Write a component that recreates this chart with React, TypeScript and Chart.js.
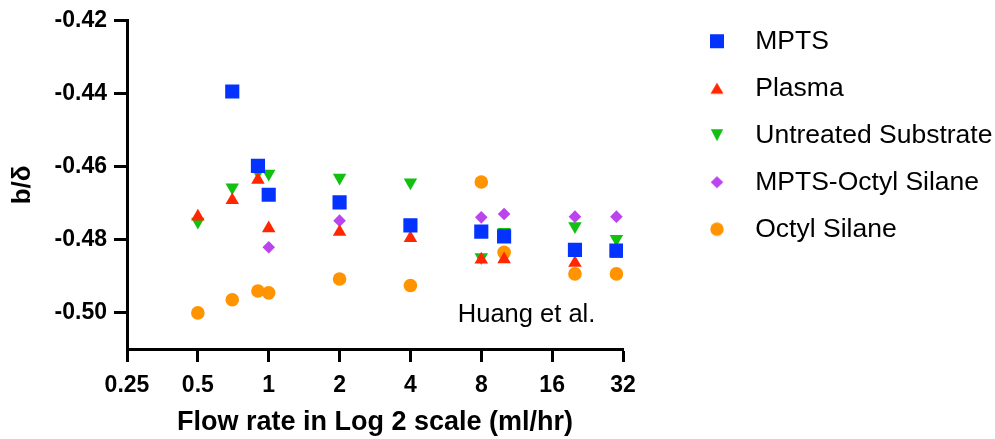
import React, { useEffect, useRef } from 'react';
import { Chart, registerables } from 'chart.js';

Chart.register(...registerables);

// ---- data ----
const flowRates = [0.5, 0.7, 0.9, 1, 2, 4, 8, 10, 20, 30];
const mpts = [null, -0.4394, -0.4598, -0.4677, -0.4698, -0.4761, -0.4778, -0.4791, -0.4828, -0.483];
const plasma = [-0.4737, -0.4692, -0.4636, -0.4769, -0.4779, -0.4796, -0.4855, -0.4854, -0.4864, -0.484];
const untreated = [-0.4751, -0.4657, -0.4615, -0.4619, -0.463, -0.4643, -0.4848, -0.4779, -0.4763, -0.4798];
const mptsOctyl = [null, null, null, -0.4821, -0.4748, null, -0.4739, -0.473, -0.4737, -0.4737];
const octyl = [-0.5001, -0.4965, -0.4941, -0.4946, -0.4908, -0.4926, -0.4642, -0.4835, -0.4894, -0.4894];

const seriesNames = ['MPTS', 'Plasma', 'Untreated Substrate', 'MPTS-Octyl Silane', 'Octyl Silane'];
const xTickValues = [0.25, 0.5, 1, 2, 4, 8, 16, 32];
const xTickLabels = ['0.25', '0.5', '1', '2', '4', '8', '16', '32'];
const yTickValues = [-0.5, -0.48, -0.46, -0.44, -0.42];
const yTickLabels = ['-0.50', '-0.48', '-0.46', '-0.44', '-0.42'];
const noteText = 'Huang et al.';
const noteX = 6.36;
const noteY = -0.5026;

// ---- styles ----
const seriesColors = ['#0433FF', '#FF2600', '#12C012', '#BB44EE', '#FF9300'];
const seriesShapes = ['rect', 'triangle', 'triangle', 'rectRot', 'circle'];
const seriesRotations = [0, 0, 180, 0, 0];
const seriesRadii = [10, 7.8, 7.8, 6.3, 6.8];
const seriesOrder = [0, 1, 3, 2, 4];
const legendKinds = ['square', 'up', 'down', 'diamond', 'circle'];

const FONT = '"Liberation Sans", Arial, Helvetica, sans-serif';

function makeIcon(kind: string, color: string) {
  const c = document.createElement('canvas');
  c.width = 20;
  c.height = 20;
  const g = c.getContext('2d')!;
  g.fillStyle = color;
  g.beginPath();
  if (kind === 'square') g.rect(3, 3, 14, 14);
  else if (kind === 'up') {
    g.moveTo(3.5, 15.5);
    g.lineTo(16.5, 15.5);
    g.lineTo(10, 4.5);
    g.closePath();
  } else if (kind === 'down') {
    g.moveTo(3.8, 4);
    g.lineTo(16.2, 4);
    g.lineTo(10, 16);
    g.closePath();
  } else if (kind === 'diamond') {
    g.moveTo(10, 4.1);
    g.lineTo(16.3, 10);
    g.lineTo(10, 15.9);
    g.lineTo(3.7, 10);
    g.closePath();
  } else {
    g.arc(10, 10, 6.7, 0, Math.PI * 2);
  }
  g.fill();
  return c;
}

const notePlugin = {
  id: 'huangNote',
  afterDatasetsDraw(chart: any) {
    const { ctx, scales } = chart;
    ctx.save();
    ctx.font = '25.5px ' + FONT;
    ctx.fillStyle = '#000';
    ctx.textAlign = 'left';
    ctx.textBaseline = 'alphabetic';
    ctx.fillText(noteText, scales.x.getPixelForValue(noteX), scales.y.getPixelForValue(noteY));
    ctx.restore();
  },
};

export default function App() {
  const ref = useRef<HTMLCanvasElement | null>(null);

  useEffect(() => {
    if (!ref.current) return;
    const series = [mpts, plasma, untreated, mptsOctyl, octyl];
    const icons = legendKinds.map((k, i) => makeIcon(k, seriesColors[i]));
    const datasets = series.map((ys, i) => ({
      label: seriesNames[i],
      data: flowRates
        .map((x, j) => ({ x, y: ys[j] }))
        .filter((p) => p.y !== null),
      showLine: false,
      order: seriesOrder[i],
      backgroundColor: seriesColors[i],
      borderColor: seriesColors[i],
      pointBackgroundColor: seriesColors[i],
      pointBorderColor: seriesColors[i],
      pointBorderWidth: 0,
      pointStyle: seriesShapes[i],
      pointRotation: seriesRotations[i],
      pointRadius: seriesRadii[i],
      pointHoverRadius: seriesRadii[i],
    }));

    const tickFont = { family: FONT, size: 23, weight: 'bold' as const };

    const chart = new Chart(ref.current, {
      type: 'scatter',
      data: { datasets: datasets as any },
      plugins: [notePlugin],
      options: {
        animation: false,
        responsive: false,
        events: [],
        layout: { padding: { top: 7.5, right: 0, left: 0, bottom: 0 } },
        plugins: {
          tooltip: { enabled: false },
          legend: {
            position: 'right',
            align: 'start',
            maxWidth: 323.5,
            labels: {
              usePointStyle: true,
              pointStyleWidth: 50,
              padding: 20.5,
              color: '#000',
              font: { family: FONT, size: 26.5 },
              sort: (a: any, b: any) => a.datasetIndex - b.datasetIndex,
              generateLabels: (ch: any) => {
                const items = (Chart.defaults.plugins.legend.labels as any).generateLabels(ch);
                return items.map((it: any) => ({
                  ...it,
                  pointStyle: icons[it.datasetIndex],
                  rotation: 0,
                }));
              },
            },
          } as any,
        },
        scales: {
          x: {
            type: 'logarithmic',
            position: 'bottom',
            min: 0.25,
            max: 32,
            afterBuildTicks: (scale: any) => {
              scale.ticks = xTickValues.map((v) => ({ value: v }));
            },
            afterFit: (scale: any) => {
              scale.height = 90;
            },
            ticks: {
              autoSkip: false,
              maxRotation: 0,
              minRotation: 0,
              padding: 9.5,
              color: '#000',
              font: tickFont,
              callback: (_v: any, i: number) => xTickLabels[i],
            },
            grid: {
              display: true,
              drawOnChartArea: false,
              drawTicks: true,
              tickLength: 13,
              tickWidth: 3,
              tickColor: '#000',
            },
            border: { display: true, color: '#000', width: 3 },
            title: {
              display: true,
              text: 'Flow rate in Log 2 scale (ml/hr)',
              color: '#000',
              font: { family: FONT, size: 27, weight: 'bold' },
              padding: { top: 0, bottom: 0 },
            },
          },
          x2: {
            type: 'linear',
            position: 'top',
            display: true,
            grid: { display: false },
            border: { display: false },
            ticks: { display: false },
            afterFit: (scale: any) => {
              scale.height = 11.5;
            },
          },
          y: {
            type: 'linear',
            position: 'left',
            min: -0.51,
            max: -0.42,
            afterBuildTicks: (scale: any) => {
              scale.ticks = yTickValues.map((v) => ({ value: v }));
            },
            afterFit: (scale: any) => {
              scale.width = 127;
            },
            ticks: {
              padding: 7,
              color: '#000',
              font: tickFont,
              callback: (_v: any, i: number) => yTickLabels[i],
            },
            grid: {
              display: true,
              drawOnChartArea: false,
              drawTicks: true,
              tickLength: 13,
              tickWidth: 3,
              tickColor: '#000',
            },
            border: { display: true, color: '#000', width: 3 },
            title: {
              display: true,
              text: 'b/δ',
              color: '#000',
              font: { family: FONT, size: 26, weight: 'bold' },
              padding: { top: 7, bottom: 0 },
            },
          },
          y2: {
            type: 'linear',
            position: 'right',
            display: true,
            grid: { display: false },
            border: { display: false },
            ticks: { display: false },
            afterFit: (scale: any) => {
              scale.width = 48.5;
            },
          },
        },
      } as any,
    });
    return () => chart.destroy();
  }, []);

  return (
    <div style={{ position: 'absolute', left: 0, top: 0, width: 995, height: 439, background: '#fff' }}>
      <canvas ref={ref} width={995} height={439} style={{ display: 'block' }} />
    </div>
  );
}
